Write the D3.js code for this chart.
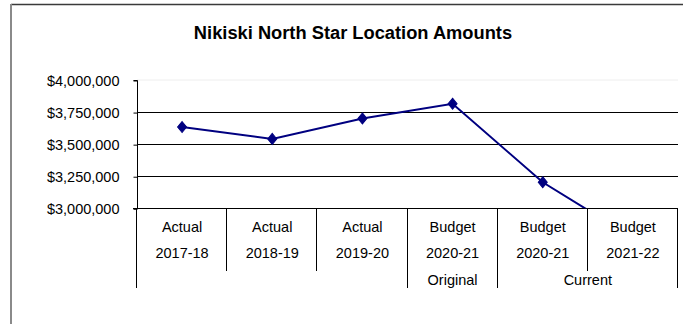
<!DOCTYPE html>
<html>
<head>
<meta charset="utf-8">
<script src="https://cdn.jsdelivr.net/npm/d3@7"></script>
<style>
  html, body { margin: 0; padding: 0; background: #fff; }
  svg { display: block; font-family: "Liberation Sans", Arial, sans-serif; }
</style>
</head>
<body>
<svg id="chart" width="683" height="324"></svg>
<script>
// Budget categories along the x axis (three label rows)
const categoryTypes = ["Actual", "Actual", "Actual", "Budget", "Budget", "Budget"];
const categoryYears = ["2017-18", "2018-19", "2019-20", "2020-21", "2020-21", "2021-22"];
const categoryGroups = [
  { label: "", from: 0, to: 2 },
  { label: "Original", from: 3, to: 3 },
  { label: "Current", from: 4, to: 5 }
];
// Location amounts per category
const amounts = [3633000, 3541000, 3700000, 3815000, 3203000, 2770000];
const yTicks = [3000000, 3250000, 3500000, 3750000, 4000000];

const svg = d3.select("#chart");
const plotLeft = 137, plotRight = 678, plotTop = 80, plotBottom = 208.3;
const keys = categoryYears.map((d, i) => i);

const x = d3.scaleBand().domain(keys).range([plotLeft, plotRight]).padding(0);
const y = d3.scaleLinear().domain([3000000, 4000000]).range([plotBottom, plotTop]);

// Outer frame
svg.append("line").attr("x1", 11).attr("x2", 683).attr("y1", 4.5).attr("y2", 4.5)
  .attr("stroke", "#3a3a3a").attr("stroke-width", 1.5);
svg.append("line").attr("x1", 11).attr("x2", 11).attr("y1", 4).attr("y2", 324)
  .attr("stroke", "#8a8a8a").attr("stroke-width", 2);

// Title
svg.append("text").attr("x", 353).attr("y", 38.5).attr("text-anchor", "middle")
  .attr("font-weight", "bold").attr("font-size", 18.3).attr("fill", "#000")
  .text("Nikiski North Star Location Amounts");

// Plot top edge
svg.append("line").attr("x1", plotLeft).attr("x2", plotRight)
  .attr("y1", y(4000000)).attr("y2", y(4000000))
  .attr("stroke", "#eeeeee").attr("stroke-width", 1);

// Horizontal gridlines
svg.append("g").selectAll("line")
  .data(yTicks.filter(v => v > 3000000 && v < 4000000))
  .join("line")
  .attr("x1", plotLeft).attr("x2", plotRight)
  .attr("y1", d => Math.round(y(d)) + 0.5).attr("y2", d => Math.round(y(d)) + 0.5)
  .attr("stroke", "#000").attr("stroke-width", 1);

// Y axis
const yAxis = d3.axisLeft(y).tickValues(yTicks).tickSize(4).tickPadding(14)
  .tickFormat(d3.format("$,"));
const gy = svg.append("g").attr("transform", `translate(${plotLeft + 0.5},0.5)`).call(yAxis);
gy.select(".domain").attr("stroke", "#000").attr("d", `M-4,${plotTop}H0V${plotBottom}`);
gy.selectAll(".tick line").attr("stroke", "#000");
gy.selectAll(".tick text").attr("font-size", 14.5).attr("fill", "#000")
  .attr("font-family", "Liberation Sans, Arial, sans-serif");

// X axis baseline
svg.append("line").attr("x1", plotLeft - 4).attr("x2", plotRight)
  .attr("y1", Math.round(plotBottom) + 0.5).attr("y2", Math.round(plotBottom) + 0.5)
  .attr("stroke", "#000");

// Category dividers: short between categories, full at group edges
const groupEdges = new Set([0, keys.length]);
categoryGroups.forEach(g => { groupEdges.add(g.from); groupEdges.add(g.to + 1); });
const edgeX = i => Math.round(i < keys.length ? x(i) : x(keys.length - 1) + x.bandwidth()) - 0.5;
svg.append("g").selectAll("line").data(d3.range(keys.length + 1)).join("line")
  .attr("x1", edgeX).attr("x2", edgeX)
  .attr("y1", plotBottom)
  .attr("y2", i => groupEdges.has(i) ? 288 : 271)
  .attr("stroke", "#000").attr("stroke-width", 1);

// Category label rows
const labelFont = 14.5;
svg.append("g").selectAll("text").data(categoryTypes).join("text")
  .attr("x", (d, i) => x(i) + x.bandwidth() / 2).attr("y", 231.5)
  .attr("text-anchor", "middle").attr("font-size", labelFont).text(d => d);
svg.append("g").selectAll("text").data(categoryYears).join("text")
  .attr("x", (d, i) => x(i) + x.bandwidth() / 2).attr("y", 258)
  .attr("text-anchor", "middle").attr("font-size", labelFont).text(d => d);
svg.append("g").selectAll("text").data(categoryGroups).join("text")
  .attr("x", g => (x(g.from) + x(g.to) + x.bandwidth()) / 2).attr("y", 284.5)
  .attr("text-anchor", "middle").attr("font-size", labelFont).text(g => g.label);

// Series line, clipped to the plot area
svg.append("clipPath").attr("id", "plot-clip").append("rect")
  .attr("x", plotLeft).attr("y", plotTop - 10)
  .attr("width", plotRight - plotLeft + 10).attr("height", plotBottom - plotTop + 10);

const plot = svg.append("g").attr("clip-path", "url(#plot-clip)");
const line = d3.line().x((d, i) => x(i) + x.bandwidth() / 2).y(d => y(d));
plot.append("path").datum(amounts).attr("d", line)
  .attr("fill", "none").attr("stroke", "#000080").attr("stroke-width", 2);

plot.selectAll("path.marker").data(amounts).join("path").attr("class", "marker")
  .attr("d", d3.symbol().type(d3.symbolDiamond2).size(64))
  .attr("transform", (d, i) => `translate(${x(i) + x.bandwidth() / 2},${y(d)}) scale(0.9,1.1)`)
  .attr("fill", "#000080").attr("stroke", "#000080").attr("stroke-width", 1);
</script>
</body>
</html>
